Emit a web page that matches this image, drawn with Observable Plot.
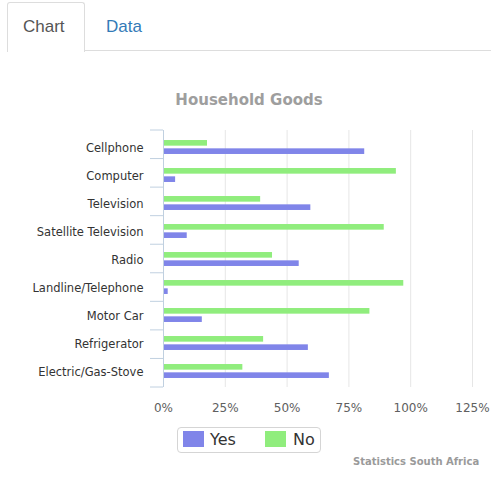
<!DOCTYPE html>
<html>
<head>
<meta charset="utf-8">
<script src="https://cdn.jsdelivr.net/npm/d3@7"></script>
<script src="https://cdn.jsdelivr.net/npm/@observablehq/plot@0.6"></script>
<style>
  body { margin: 0; background: #fff; }
  #wrap { position: relative; width: 493px; height: 479px; overflow: hidden; font-family: "DejaVu Sans", sans-serif; }
  .abs { position: absolute; white-space: nowrap; }
  .tab-box { position: absolute; left: 7px; top: 2px; width: 76px; height: 49px; border: 1px solid #ddd; border-bottom: none; border-radius: 3px 3px 0 0; background: #fff; }
  .tab-line { position: absolute; left: 84px; width: 407px; top: 50px; border-top: 1px solid #ddd; }
  .tab-text { font-family: "Liberation Sans", Arial, sans-serif; font-size: 17px; line-height: 17px; top: 17.6px; }
  #title { left: 2.5px; width: 493px; text-align: center; top: 93.3px; font-size: 15px; line-height: 15px; font-weight: bold; color: #9e9e9e; }
  #chart { position: absolute; left: 0; top: 120px; }
  #legend { position: absolute; left: 177px; top: 427px; width: 142px; height: 24px; border: 1px solid #d5d5d5; border-radius: 4px; }
  .swatch { position: absolute; width: 21px; height: 16px; top: 431px; }
  .legend-text { font-size: 16px; line-height: 16px; top: 431.5px; color: #333; }
  #caption { left: 353px; top: 456.5px; font-size: 10px; line-height: 10px; font-weight: bold; color: #9a9a9a; }
</style>
</head>
<body>
<div id="wrap">
  <div class="tab-line"></div>
  <div class="tab-box"></div>
  <div class="abs tab-text" style="left:23px;color:#555;">Chart</div>
  <div class="abs tab-text" style="left:106px;color:#337ab7;">Data</div>
  <div class="abs" id="title">Household Goods</div>
  <div id="chart"></div>
  <div id="legend"></div>
  <div id="caption" class="abs">Statistics South Africa</div>
</div>
<script>
// Share of households owning each item (percent)
const categories = [
  "Cellphone", "Computer", "Television", "Satellite Television", "Radio",
  "Landline/Telephone", "Motor Car", "Refrigerator", "Electric/Gas-Stove"
];
const yesValues = [81.4, 4.9, 59.6, 9.6, 54.9, 1.9, 15.7, 58.6, 67.1];
const noValues = [17.8, 94.2, 39.3, 89.3, 44.1, 97.2, 83.5, 40.5, 32.1];
const seriesNames = ["Yes", "No"];
const seriesColors = ["#8085e9", "#90ed7d"];
const xTicks = [0, 25, 50, 75, 100, 125];

const rows = categories.flatMap((c, i) => [
  {category: c, series: "Yes", value: yesValues[i]},
  {category: c, series: "No", value: noValues[i]}
]);

const W = 493, H = 307, MT = 10, MB = 40, ML = 163, MR = 21;
const step = (H - MT - MB) / categories.length;
const outer = step * 0.246, inner = step * 0.537;

const plot = Plot.plot({
  width: W, height: H,
  marginTop: MT, marginBottom: MB, marginLeft: ML, marginRight: MR,
  style: {fontFamily: '"DejaVu Sans", sans-serif', fontSize: "12px", color: "#606060", background: "transparent", overflow: "visible"},
  x: {domain: [0, 125], ticks: xTicks, tickFormat: d => d + "%", tickSize: 0, tickPadding: 16, label: null},
  y: {domain: categories, padding: 0, tickSize: 0, tickPadding: 20, label: null},
  color: {domain: seriesNames, range: seriesColors},
  marks: [
    Plot.ruleX(xTicks.filter(d => d > 0), {stroke: "#e6e6e6"}),
    Plot.barX(rows.filter(d => d.series === "No"), {x: "value", y: "category", fill: "series", insetTop: outer, insetBottom: inner}),
    Plot.barX(rows.filter(d => d.series === "Yes"), {x: "value", y: "category", fill: "series", insetTop: inner, insetBottom: outer}),
    Plot.ruleX([0], {stroke: "#c0d0e0"})
  ]
});

document.getElementById("chart").appendChild(plot);

// Category labels: slightly smaller and darker than the percent labels
const svg = d3.select(plot);
svg.selectAll('g[aria-label^="y-axis"] text').attr("font-size", 11.5).attr("fill", "#333").attr("dy", 1);
svg.selectAll('g[aria-label^="x-axis"] text').attr("fill", "#606060");

// Short ticks at the category band boundaries, left of the axis line
const ys = plot.scale("y"), xs = plot.scale("x");
const band = d3.scaleBand().domain(ys.domain).range(ys.range).padding(0);
const xLin = d3.scaleLinear().domain(xs.domain).range(xs.range);
const bounds = ys.domain.map(c => band(c)).concat([band(ys.domain[ys.domain.length - 1]) + band.step()]);
const x0 = xLin(0);
svg.append("g").attr("aria-label", "category boundaries")
  .selectAll("line").data(bounds).join("line")
  .attr("x1", x0 - 13).attr("x2", x0)
  .attr("y1", d => d).attr("y2", d => d)
  .attr("stroke", "#c0d0e0");

// Legend
const wrap = document.getElementById("wrap");
const legendPos = [{sw: 183, tx: 210}, {sw: 265, tx: 293}];
seriesNames.forEach((name, i) => {
  const sw = document.createElement("div");
  sw.className = "swatch";
  sw.style.left = legendPos[i].sw + "px";
  sw.style.background = seriesColors[i];
  wrap.appendChild(sw);
  const t = document.createElement("div");
  t.className = "abs legend-text";
  t.style.left = legendPos[i].tx + "px";
  t.textContent = name;
  wrap.appendChild(t);
});
</script>
</body>
</html>
